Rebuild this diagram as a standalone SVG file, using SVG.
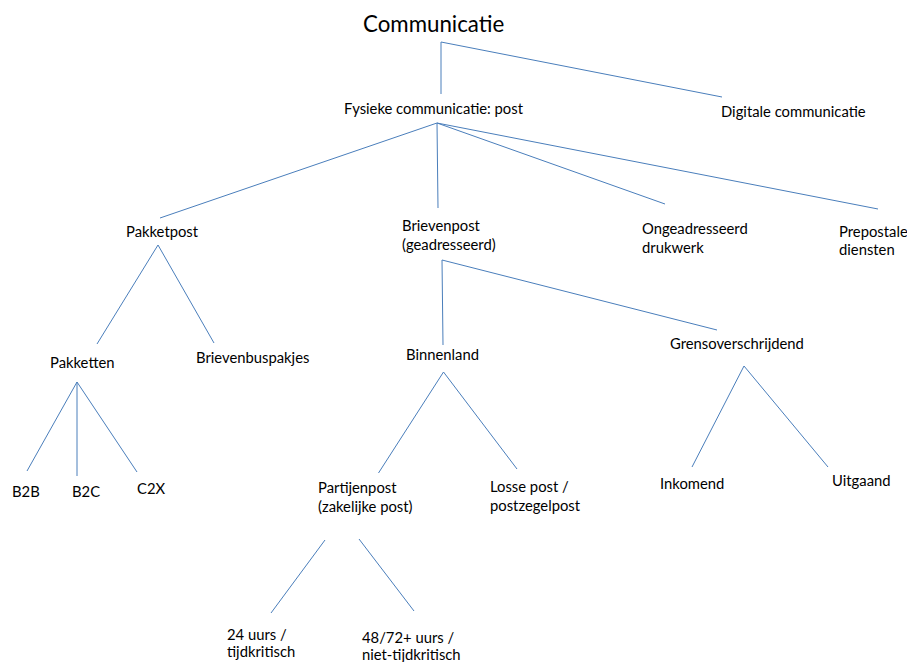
<svg xmlns="http://www.w3.org/2000/svg" width="907" height="662" viewBox="0 0 907 662">
<style>
.t{font-family:Lato,"Liberation Sans",sans-serif;font-size:14.8px;fill:#000}
.big{font-size:22.3px}
.c line{stroke:#4a7ebb;stroke-width:1}
</style>
<rect width="907" height="662" fill="#fff"/>
<g class="c" id="connectors">
<line x1="441" y1="42" x2="441" y2="94"/>
<line x1="441" y1="42" x2="722" y2="97"/>
<line x1="437" y1="123" x2="160" y2="218"/>
<line x1="437" y1="123" x2="438" y2="208"/>
<line x1="437" y1="123" x2="665" y2="204"/>
<line x1="437" y1="123" x2="878" y2="209"/>
<line x1="158" y1="245" x2="97" y2="344"/>
<line x1="158" y1="245" x2="214" y2="343"/>
<line x1="77" y1="382" x2="27" y2="471"/>
<line x1="77" y1="382" x2="77" y2="476"/>
<line x1="77" y1="382" x2="137" y2="472"/>
<line x1="442" y1="260" x2="443" y2="345"/>
<line x1="442" y1="260" x2="717" y2="330"/>
<line x1="443.5" y1="372" x2="378.5" y2="473"/>
<line x1="443.5" y1="372" x2="517" y2="469"/>
<line x1="744" y1="366" x2="692" y2="467"/>
<line x1="744" y1="366" x2="828" y2="467"/>
<line x1="325" y1="540" x2="271" y2="613"/>
<line x1="359" y1="539" x2="414" y2="611"/>
</g>
<g id="n-root"><text class="t big" x="363" y="32">Communicatie</text></g>
<g id="n-fysiek"><text class="t" x="344" y="114">Fysieke communicatie: post</text></g>
<g id="n-digitaal"><text class="t" x="721" y="117">Digitale communicatie</text></g>
<g id="n-pakketpost"><text class="t" x="126" y="237">Pakketpost</text></g>
<g id="n-brievenpost"><text class="t" x="402" y="231">Brievenpost</text><text class="t" x="402" y="250">(geadresseerd)</text></g>
<g id="n-ongeadresseerd"><text class="t" x="642" y="234">Ongeadresseerd</text><text class="t" x="642" y="253">drukwerk</text></g>
<g id="n-prepostale"><text class="t" x="839" y="237">Prepostale</text><text class="t" x="839" y="255">diensten</text></g>
<g id="n-pakketten"><text class="t" x="50" y="368">Pakketten</text></g>
<g id="n-brievenbuspakjes"><text class="t" x="196" y="363">Brievenbuspakjes</text></g>
<g id="n-binnenland"><text class="t" x="406" y="360">Binnenland</text></g>
<g id="n-grens"><text class="t" x="670" y="349">Grensoverschrijdend</text></g>
<g id="n-b2b"><text class="t" x="12" y="497">B2B</text></g>
<g id="n-b2c"><text class="t" x="72" y="497">B2C</text></g>
<g id="n-c2x"><text class="t" x="137" y="494">C2X</text></g>
<g id="n-partijenpost"><text class="t" x="318" y="493">Partijenpost</text><text class="t" x="318" y="512">(zakelijke post)</text></g>
<g id="n-losse"><text class="t" x="490" y="492">Losse post /</text><text class="t" x="490" y="511">postzegelpost</text></g>
<g id="n-inkomend"><text class="t" x="660" y="489">Inkomend</text></g>
<g id="n-uitgaand"><text class="t" x="832" y="486">Uitgaand</text></g>
<g id="n-24"><text class="t" x="227" y="640">24 uurs /</text><text class="t" x="227" y="657">tijdkritisch</text></g>
<g id="n-48"><text class="t" x="362" y="643">48/72+ uurs /</text><text class="t" x="362" y="660">niet-tijdkritisch</text></g>
</svg>
